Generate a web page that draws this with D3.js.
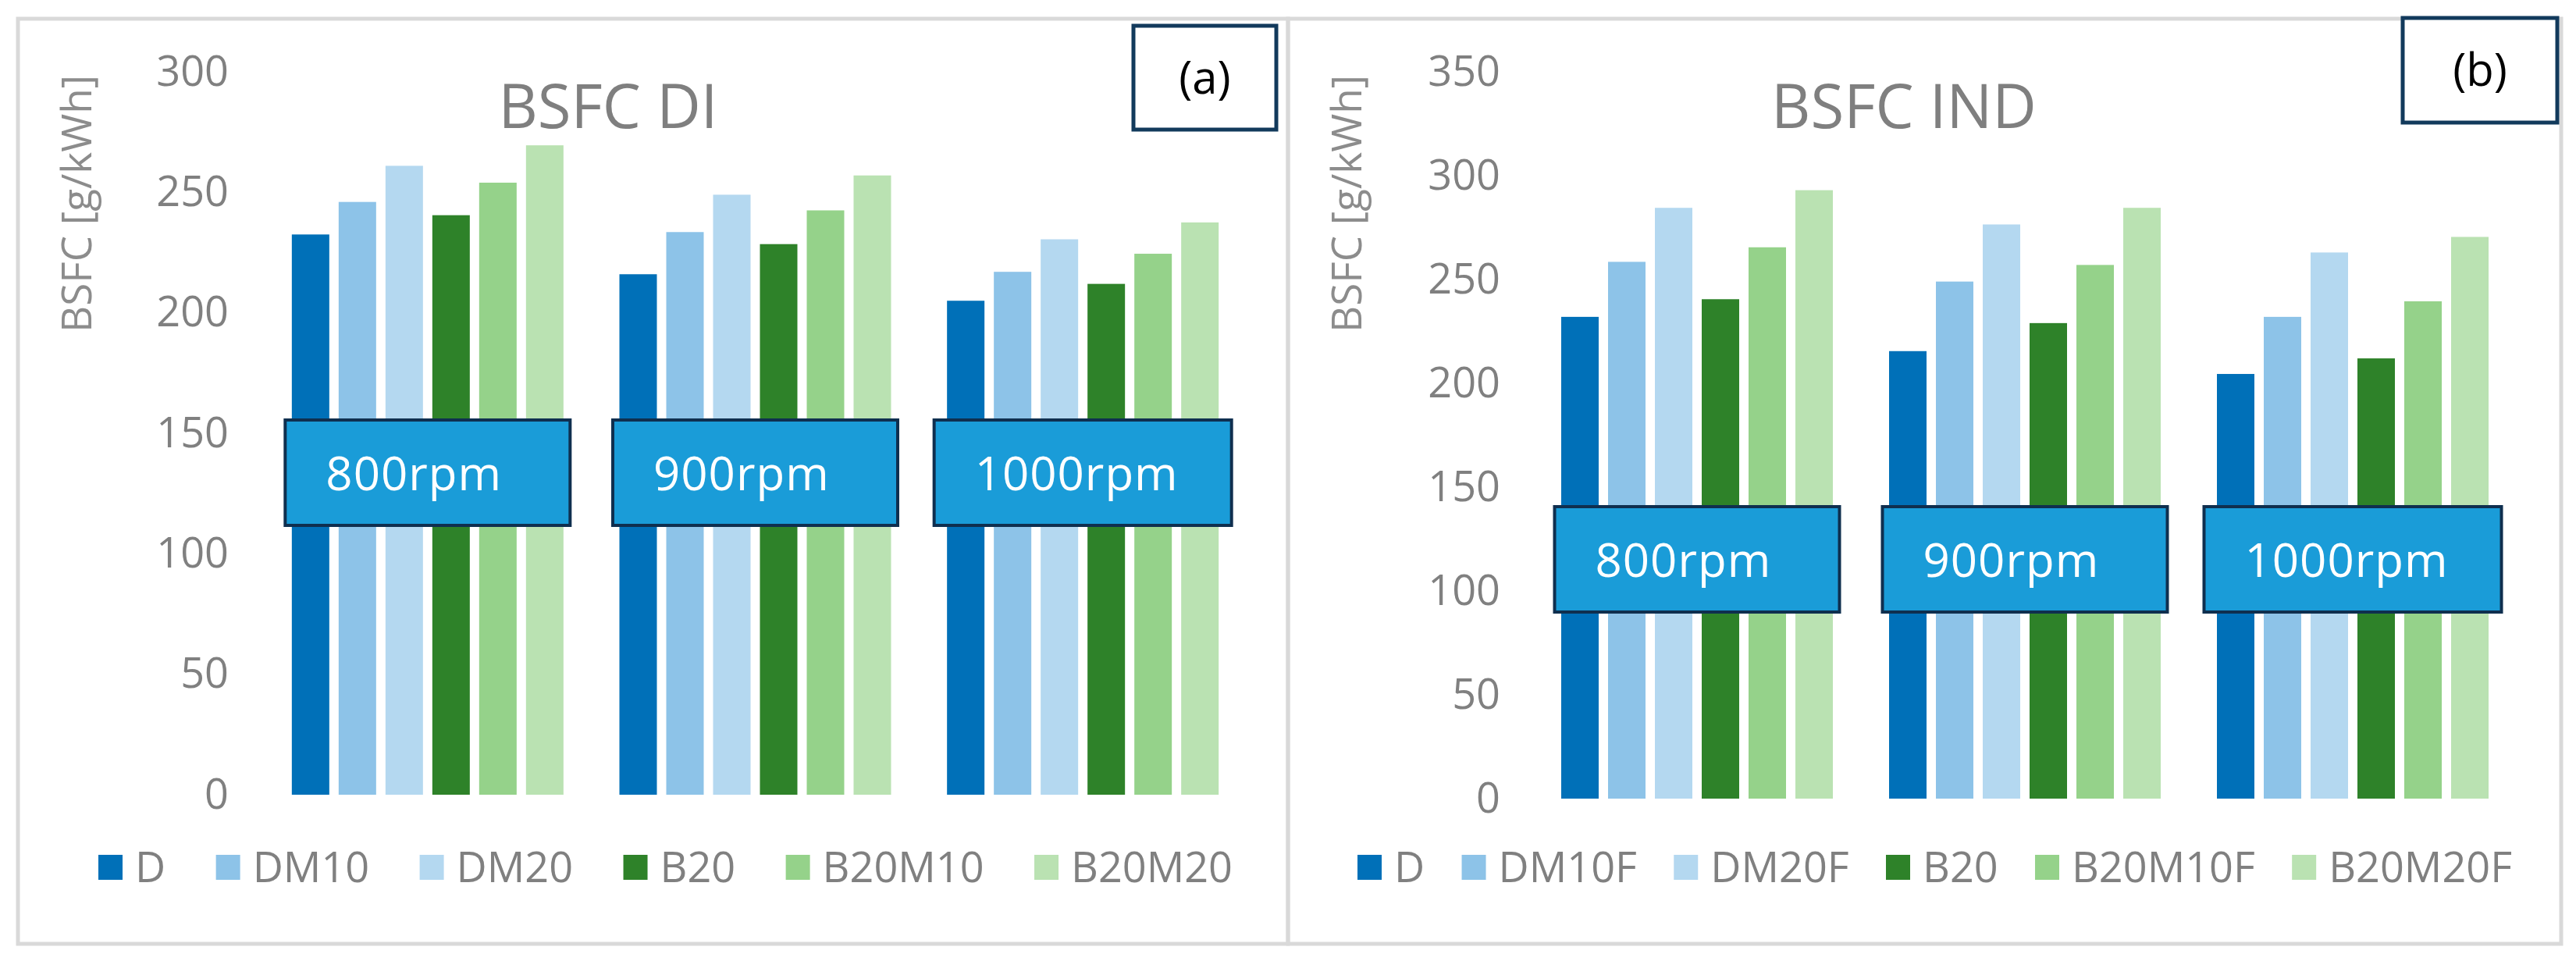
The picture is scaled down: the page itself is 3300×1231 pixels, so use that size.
<!DOCTYPE html>
<html>
<head>
<meta charset="utf-8">
<script src="https://cdn.jsdelivr.net/npm/d3@7"></script>
<style>
    body { margin: 0; background: #ffffff; }
    text { font-family: "Open Sans", "Noto Sans", sans-serif; }
</style>
</head>
<body>
<div id="chart"></div>
<script>
// categories and series
var rpmLabels = ["800rpm", "900rpm", "1000rpm"];
var seriesDI = ["D", "DM10", "DM20", "B20", "B20M10", "B20M20"];
var seriesIND = ["D", "DM10F", "DM20F", "B20", "B20M10F", "B20M20F"];
var seriesColors = ["#0070b8", "#8dc3e8", "#b4d8f0", "#2e8229", "#95d28a", "#bae2b2"];

// BSFC [g/kWh], direct injection, one array per engine speed
var di800 = [232.5, 246, 261, 240.5, 254, 269.5];
var di900 = [216, 233.5, 249, 228.5, 242.5, 257];
var di1000 = [205, 217, 230.5, 212, 224.5, 237.5];

// BSFC [g/kWh], indirect injection
var ind800 = [232, 258.5, 284.5, 240.5, 265.5, 293];
var ind900 = [215.5, 249, 276.5, 229, 257, 284.5];
var ind1000 = [204.5, 232, 263, 212, 239.5, 270.5];

var diTicks = [0, 50, 100, 150, 200, 250, 300];
var indTicks = [0, 50, 100, 150, 200, 250, 300, 350];

var svg = d3.select("#chart")
    .append("svg")
    .attr("width", 3300)
    .attr("height", 1231);

svg.append("rect").attr("width", 3300).attr("height", 1231).attr("fill", "#ffffff");

drawPanel({
    frame: [23, 24, 1650, 1209],
    title: "BSFC DI", titleX: 779,
    tag: "(a)", tagBox: [1452, 33, 1635, 166],
    xRange: [338, 1597],
    yRange: [1018, 92], yMax: 300, ticks: diTicks,
    tickX: 293, yTitleX: 117,
    series: seriesDI,
    values: [di800, di900, di1000],
    legendRange: [126, 1579],
    boxY: [538, 673]
});

drawPanel({
    frame: [1650, 24, 3281, 1209],
    title: "BSFC IND", titleX: 2439,
    tag: "(b)", tagBox: [3078, 23, 3276, 157],
    xRange: [1964, 3224],
    yRange: [1023, 92], yMax: 350, ticks: indTicks,
    tickX: 1922, yTitleX: 1744,
    series: seriesIND,
    values: [ind800, ind900, ind1000],
    legendRange: [1739, 3218],
    boxY: [649, 784]
});

function drawPanel(p) {
    var g = svg.append("g");

    // light grey frame around the panel
    g.append("rect")
        .attr("x", p.frame[0]).attr("y", p.frame[1])
        .attr("width", p.frame[2] - p.frame[0])
        .attr("height", p.frame[3] - p.frame[1])
        .attr("fill", "none")
        .attr("stroke", "#d9d9d9")
        .attr("stroke-width", 5);

    var x0 = d3.scaleBand()
        .domain(rpmLabels)
        .range(p.xRange);

    // 6 bars of 48px on a 60px step, centred in each category
    var groupW = 348;
    var x1 = d3.scaleBand()
        .domain(p.series)
        .range([(x0.step() - groupW) / 2, (x0.step() + groupW) / 2])
        .paddingInner(0.2);

    var y = d3.scaleLinear()
        .domain([0, p.yMax])
        .range(p.yRange);

    // y axis labels only, no line
    var axis = g.append("g")
        .attr("transform", "translate(" + p.tickX + ",0)")
        .call(d3.axisLeft(y).tickValues(p.ticks).tickSize(0).tickPadding(0));
    axis.select(".domain").remove();
    axis.selectAll("text")
        .attr("fill", "#808080")
        .style("font-family", "'Open Sans', sans-serif")
        .style("font-size", "54px");

    g.append("text")
        .attr("transform", "translate(" + p.yTitleX + "," + 261 + ")rotate(-90)")
        .attr("text-anchor", "middle")
        .attr("fill", "#8c8c8c")
        .style("font-size", "53px")
        .text("BSFC [g/kWh]");

    g.append("text")
        .attr("x", p.titleX)
        .attr("y", 164)
        .attr("text-anchor", "middle")
        .attr("fill", "#7f7f7f")
        .style("font-size", "78px")
        .text(p.title);

    // bars
    var groups = g.selectAll(".grp")
        .data(rpmLabels.map(function (r, i) { return { rpm: r, vals: p.values[i] }; }))
        .enter()
        .append("g")
        .attr("transform", function (d) { return "translate(" + x0(d.rpm) + ",0)"; });

    groups.selectAll("rect")
        .data(function (d) { return d.vals.map(function (v, j) { return { s: p.series[j], v: v, c: seriesColors[j] }; }); })
        .enter()
        .append("rect")
        .attr("x", function (d) { return x1(d.s); })
        .attr("width", x1.bandwidth())
        .attr("y", function (d) { return y(d.v); })
        .attr("height", function (d) { return y(0) - y(d.v); })
        .attr("fill", function (d) { return d.c; });

    // rpm label boxes laid over the bars
    groups.each(function (d) {
        var gg = d3.select(this);
        var cx = x0.bandwidth() / 2;
        var t = gg.append("text")
            .attr("y", (p.boxY[0] + p.boxY[1]) / 2 + 22)
            .attr("fill", "#ffffff")
            .style("font-size", "60px")
            .style("letter-spacing", "1px")
            .text(d.rpm);
        var tw = t.node().getComputedTextLength();
        var bw = Math.max(365, tw + 120);
        gg.insert("rect", "text")
            .attr("x", cx - bw / 2)
            .attr("y", p.boxY[0])
            .attr("width", bw)
            .attr("height", p.boxY[1] - p.boxY[0])
            .attr("fill", "#1a9cd8")
            .attr("stroke", "#0f2f4f")
            .attr("stroke-width", 4);
        t.attr("x", cx - bw / 2 + 52);
    });

    // (a)/(b) tag
    g.append("rect")
        .attr("x", p.tagBox[0]).attr("y", p.tagBox[1])
        .attr("width", p.tagBox[2] - p.tagBox[0])
        .attr("height", p.tagBox[3] - p.tagBox[1])
        .attr("fill", "#ffffff")
        .attr("stroke", "#123a5c")
        .attr("stroke-width", 5);
    g.append("text")
        .attr("x", (p.tagBox[0] + p.tagBox[2]) / 2)
        .attr("y", (p.tagBox[1] + p.tagBox[3]) / 2 + 20)
        .attr("text-anchor", "middle")
        .attr("fill", "#000000")
        .style("font-size", "58px")
        .text(p.tag);

    // legend: measure entries, then spread them over the legend range
    var leg = g.append("g");
    var items = leg.selectAll("g")
        .data(p.series)
        .enter()
        .append("g");
    items.append("rect")
        .attr("y", 1095)
        .attr("width", 31)
        .attr("height", 32)
        .attr("fill", function (d, i) { return seriesColors[i]; });
    items.append("text")
        .attr("x", 47)
        .attr("y", 1130)
        .attr("fill", "#808080")
        .style("font-size", "54px")
        .text(function (d) { return d; });

    var widths = [];
    items.each(function () {
        widths.push(47 + d3.select(this).select("text").node().getComputedTextLength());
    });
    var gap = (p.legendRange[1] - p.legendRange[0] - d3.sum(widths)) / (widths.length - 1);
    var pos = p.legendRange[0];
    items.attr("transform", function (d, i) {
        var tr = "translate(" + pos + ",0)";
        pos += widths[i] + gap;
        return tr;
    });
}
</script>
</body>
</html>
